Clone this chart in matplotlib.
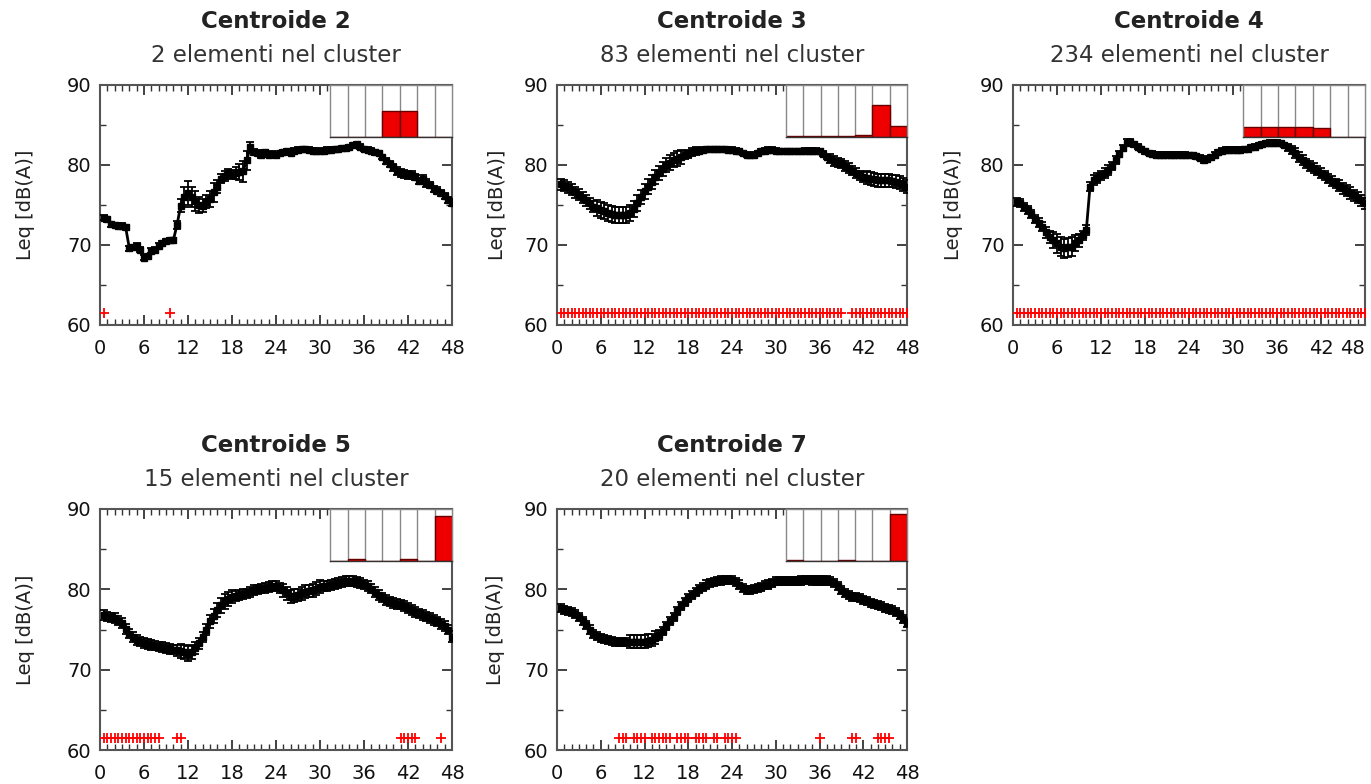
import numpy as np
import matplotlib
matplotlib.use('Agg')
import matplotlib.pyplot as plt
from matplotlib.ticker import MultipleLocator

# half-hour slots over the day (x axis 0..48)
slots = np.arange(0.5, 48.5, 0.5)

titles = ['Centroide 2', 'Centroide 3', 'Centroide 4', 'Centroide 5', 'Centroide 7']
subtitles = ['2 elementi nel cluster', '83 elementi nel cluster', '234 elementi nel cluster',
             '15 elementi nel cluster', '20 elementi nel cluster']

leq_c2 = [73.4, 73.2, 72.6, 72.5, 72.4, 72.4, 72.2, 69.6, 69.7, 69.9, 69.4, 68.4,
          68.6, 69.3, 69.4, 69.9, 70.2, 70.5, 70.6, 70.6, 72.5, 74.9, 76.0, 76.5,
          76.0, 75.5, 75.0, 74.9, 75.4, 75.8, 76.6, 77.3, 78.3, 78.6, 79.0, 78.8,
          79.0, 79.1, 79.2, 80.6, 82.2, 81.6, 81.5, 81.3, 81.6, 81.3, 81.4, 81.2,
          81.5, 81.6, 81.7, 81.5, 81.8, 81.9, 82.0, 82.0, 81.9, 81.8, 81.8, 81.7,
          81.8, 81.9, 81.9, 82.0, 82.0, 82.1, 82.1, 82.2, 82.5, 82.6, 82.3, 82.0,
          81.9, 81.8, 81.6, 81.5, 81.0, 80.5, 80.1, 79.7, 79.3, 79.0, 78.9, 78.8,
          78.7, 78.5, 78.0, 78.3, 77.8, 77.5, 77.0, 76.8, 76.5, 76.1, 75.6, 75.3]
err_c2 = [0.3, 0.3, 0.3, 0.3, 0.3, 0.3, 0.3, 0.3, 0.3, 0.3, 0.3, 0.3,
          0.3, 0.3, 0.3, 0.3, 0.3, 0.3, 0.3, 0.3, 0.5, 0.8, 1.2, 1.5,
          1.3, 1.2, 1.0, 0.8, 0.8, 1.0, 1.2, 0.8, 0.6, 0.6, 0.5, 0.6,
          0.8, 1.0, 1.3, 1.2, 0.7, 0.4, 0.4, 0.4, 0.3, 0.3, 0.3, 0.3,
          0.3, 0.3, 0.3, 0.3, 0.3, 0.3, 0.3, 0.3, 0.3, 0.3, 0.3, 0.3,
          0.3, 0.3, 0.3, 0.3, 0.3, 0.3, 0.3, 0.3, 0.3, 0.3, 0.3, 0.3,
          0.3, 0.3, 0.3, 0.3, 0.3, 0.4, 0.4, 0.4, 0.5, 0.5, 0.5, 0.5,
          0.5, 0.4, 0.4, 0.5, 0.5, 0.4, 0.4, 0.4, 0.4, 0.4, 0.4, 0.4]

leq_c3 = [77.6, 77.4, 77.2, 76.9, 76.6, 76.3, 75.9, 75.6, 75.2, 74.8, 74.6, 74.4,
          74.2, 74.0, 73.9, 73.8, 73.8, 73.7, 73.8, 74.0, 74.5, 75.2, 76.0, 76.7,
          77.3, 77.9, 78.5, 79.0, 79.5, 80.0, 80.3, 80.6, 80.8, 81.0, 81.2, 81.4,
          81.6, 81.7, 81.8, 81.9, 82.0, 82.0, 82.0, 82.0, 82.0, 82.0, 81.9, 81.9,
          81.8, 81.7, 81.5, 81.3, 81.2, 81.3, 81.5, 81.7, 81.8, 81.9, 81.9, 81.8,
          81.7, 81.7, 81.7, 81.7, 81.7, 81.7, 81.7, 81.8, 81.8, 81.8, 81.8, 81.7,
          81.4, 81.0, 80.8, 80.5, 80.3, 80.2, 79.9, 79.6, 79.3, 79.0, 78.7, 78.5,
          78.4, 78.3, 78.2, 78.1, 78.1, 78.1, 78.1, 78.0, 77.9, 77.8, 77.6, 77.3]
err_c3 = [0.7, 0.7, 0.7, 0.7, 0.7, 0.7, 0.7, 0.7, 0.7, 0.7, 1.0, 1.0,
          1.0, 1.0, 1.0, 1.0, 1.0, 1.0, 1.0, 1.0, 1.0, 1.0, 0.9, 0.9,
          0.9, 0.9, 0.9, 0.9, 0.9, 0.9, 0.9, 0.9, 0.9, 0.9, 0.5, 0.5,
          0.5, 0.5, 0.3, 0.3, 0.3, 0.3, 0.3, 0.3, 0.3, 0.3, 0.3, 0.3,
          0.3, 0.3, 0.3, 0.3, 0.3, 0.3, 0.3, 0.3, 0.3, 0.3, 0.3, 0.3,
          0.3, 0.3, 0.3, 0.3, 0.3, 0.3, 0.3, 0.3, 0.3, 0.3, 0.3, 0.3,
          0.3, 0.3, 0.6, 0.6, 0.6, 0.6, 0.6, 0.6, 0.6, 0.6, 0.6, 0.6,
          0.8, 0.8, 0.8, 0.8, 0.8, 0.8, 0.8, 0.8, 0.8, 0.8, 0.8, 0.8]

leq_c4 = [75.4, 75.2, 74.8, 74.4, 73.9, 73.3, 72.8, 72.3, 71.6, 71.0, 70.6, 70.2,
          69.8, 69.6, 69.7, 69.8, 70.2, 70.6, 71.2, 71.9, 77.3, 78.1, 78.4, 78.7,
          79.0, 79.4, 79.9, 80.6, 81.4, 82.1, 82.8, 82.9, 82.6, 82.3, 82.0, 81.7,
          81.5, 81.4, 81.3, 81.3, 81.3, 81.3, 81.3, 81.3, 81.3, 81.3, 81.3, 81.2,
          81.2, 81.1, 80.9, 80.6, 80.8, 81.0, 81.3, 81.6, 81.8, 81.9, 81.9, 81.9,
          81.9, 81.9, 82.0, 82.0, 82.2, 82.3, 82.5, 82.6, 82.7, 82.8, 82.8, 82.8,
          82.7, 82.5, 82.2, 81.9, 81.5, 81.0, 80.6, 80.2, 79.9, 79.6, 79.3, 79.0,
          78.7, 78.3, 78.0, 77.7, 77.4, 77.1, 76.8, 76.5, 76.2, 75.9, 75.6, 75.2]
err_c4 = [0.5, 0.5, 0.5, 0.5, 0.5, 0.5, 0.6, 0.6, 0.7, 0.8, 1.0, 1.2,
          1.2, 1.2, 1.2, 1.2, 1.0, 0.8, 0.6, 0.6, 0.6, 0.6, 0.6, 0.6,
          0.6, 0.6, 0.5, 0.5, 0.4, 0.4, 0.4, 0.3, 0.3, 0.3, 0.3, 0.3,
          0.3, 0.3, 0.3, 0.3, 0.3, 0.3, 0.3, 0.3, 0.3, 0.3, 0.3, 0.3,
          0.3, 0.3, 0.3, 0.3, 0.3, 0.3, 0.3, 0.3, 0.3, 0.3, 0.3, 0.3,
          0.3, 0.3, 0.3, 0.3, 0.3, 0.3, 0.3, 0.3, 0.3, 0.3, 0.3, 0.3,
          0.3, 0.3, 0.4, 0.5, 0.6, 0.6, 0.6, 0.6, 0.6, 0.6, 0.6, 0.6,
          0.6, 0.6, 0.6, 0.6, 0.7, 0.7, 0.7, 0.7, 0.7, 0.7, 0.7, 0.7]

leq_c5 = [76.8, 76.6, 76.5, 76.4, 76.1, 75.8, 75.1, 74.5, 74.1, 73.7, 73.5, 73.3,
          73.2, 73.1, 73.0, 72.9, 72.8, 72.7, 72.6, 72.5, 72.4, 72.3, 72.2, 72.0,
          72.2, 72.7, 73.3, 74.1, 75.0, 76.0, 76.7, 77.4, 78.0, 78.5, 78.8, 79.1,
          79.2, 79.3, 79.4, 79.5, 79.7, 79.9, 80.0, 80.1, 80.2, 80.3, 80.4, 80.4,
          80.2, 79.9, 79.5, 79.1, 79.2, 79.3, 79.5, 79.7, 79.8, 79.9, 80.1, 80.3,
          80.4, 80.4, 80.5, 80.7, 80.8, 80.9, 81.0, 81.0, 81.0, 80.9, 80.8, 80.6,
          80.4, 80.1, 79.7, 79.3, 79.0, 78.7, 78.5, 78.3, 78.2, 78.1, 77.9, 77.7,
          77.4, 77.2, 77.0, 76.8, 76.6, 76.4, 76.2, 76.0, 75.7, 75.4, 75.0, 74.1]
err_c5 = [0.6, 0.6, 0.6, 0.6, 0.6, 0.6, 0.6, 0.6, 0.6, 0.6, 0.6, 0.6,
          0.6, 0.6, 0.6, 0.6, 0.6, 0.6, 0.6, 0.6, 0.7, 0.9, 0.9, 0.9,
          0.9, 0.8, 0.7, 0.6, 0.7, 0.8, 0.9, 0.9, 0.9, 0.9, 0.9, 0.8,
          0.6, 0.6, 0.6, 0.6, 0.6, 0.6, 0.6, 0.6, 0.6, 0.6, 0.6, 0.6,
          0.6, 0.8, 0.8, 0.8, 0.8, 0.8, 0.8, 0.8, 0.8, 0.8, 0.8, 0.8,
          0.6, 0.6, 0.6, 0.6, 0.6, 0.6, 0.6, 0.6, 0.6, 0.6, 0.6, 0.6,
          0.6, 0.6, 0.6, 0.6, 0.6, 0.6, 0.6, 0.6, 0.6, 0.6, 0.6, 0.6,
          0.6, 0.6, 0.6, 0.6, 0.6, 0.6, 0.6, 0.6, 0.6, 0.6, 0.6, 0.7]

leq_c7 = [77.7, 77.4, 77.3, 77.2, 76.9, 76.6, 76.1, 75.6, 75.0, 74.5, 74.2, 73.9,
          73.8, 73.7, 73.6, 73.5, 73.5, 73.5, 73.5, 73.5, 73.5, 73.5, 73.5, 73.5,
          73.6, 73.7, 74.0, 74.3, 74.8, 75.4, 76.0, 76.6, 77.3, 77.9, 78.4, 78.9,
          79.3, 79.7, 80.0, 80.3, 80.6, 80.8, 80.9, 81.0, 81.1, 81.2, 81.2, 81.2,
          80.9, 80.6, 80.2, 79.9, 79.9, 80.0, 80.2, 80.3, 80.5, 80.6, 80.8, 81.0,
          81.0, 81.0, 81.0, 81.0, 81.0, 81.0, 81.1, 81.2, 81.2, 81.1, 81.1, 81.1,
          81.1, 81.1, 81.0, 80.8, 80.4, 79.9, 79.6, 79.3, 79.1, 79.0, 78.9, 78.7,
          78.5, 78.3, 78.2, 78.1, 77.9, 77.7, 77.5, 77.4, 77.2, 76.8, 76.3, 75.8]
err_c7 = [0.5, 0.5, 0.5, 0.5, 0.5, 0.5, 0.5, 0.5, 0.5, 0.5, 0.5, 0.5,
          0.5, 0.5, 0.5, 0.5, 0.5, 0.5, 0.5, 0.8, 0.8, 0.8, 0.8, 0.8,
          0.8, 0.8, 0.8, 0.6, 0.5, 0.5, 0.5, 0.5, 0.5, 0.5, 0.5, 0.5,
          0.5, 0.5, 0.5, 0.5, 0.5, 0.5, 0.5, 0.5, 0.5, 0.5, 0.5, 0.5,
          0.5, 0.5, 0.5, 0.5, 0.5, 0.5, 0.5, 0.5, 0.5, 0.5, 0.5, 0.5,
          0.5, 0.5, 0.5, 0.5, 0.5, 0.5, 0.5, 0.5, 0.5, 0.5, 0.5, 0.5,
          0.5, 0.5, 0.5, 0.5, 0.5, 0.5, 0.5, 0.5, 0.5, 0.5, 0.5, 0.5,
          0.5, 0.5, 0.5, 0.5, 0.5, 0.5, 0.5, 0.5, 0.5, 0.5, 0.5, 0.5]

# red '+' flags: spans of flagged half-hour slots (first, last)
red_c2 = [(0.5, 0.5), (9.5, 9.5)]
red_c3 = [(0.5, 39.0), (40.5, 48.0)]
red_c4 = [(0.5, 48.0)]
red_c5 = [(0.5, 8.0), (10.5, 11.0), (41.0, 43.0), (46.5, 46.5)]
red_c7 = [(8.5, 9.5), (10.5, 12.0), (13.0, 15.5), (16.5, 18.0), (19.0, 20.5),
          (21.5, 22.0), (23.0, 24.5), (36.0, 36.0), (40.5, 41.0), (44.0, 45.5)]

# inset: fraction of cluster elements per day of week
week_c2 = [0, 0, 0, 0.5, 0.5, 0, 0]
week_c3 = [0.012, 0.012, 0.012, 0.012, 0.036, 0.61, 0.22]
week_c4 = [0.19, 0.19, 0.19, 0.19, 0.17, 0, 0]
week_c5 = [0, 0.05, 0, 0, 0.05, 0, 0.87]
week_c7 = [0.03, 0, 0, 0.03, 0, 0, 0.9]

RED_LEVEL = 61.5


def draw_panel(ax, title, subtitle, leq, err, red_spans, week, ylab_off):
    ax.errorbar(slots, leq, yerr=err, fmt='-s', color='black', ms=4, lw=2,
                elinewidth=1.3, capsize=3, capthick=1.3, zorder=3)
    xs = np.concatenate([np.arange(a, b + 0.25, 0.5) for a, b in red_spans])
    ax.plot(xs, np.full(len(xs), RED_LEVEL), '+', color='red', ms=7, mew=1.3, zorder=4)

    ax.set_xlim(0, 48)
    ax.set_ylim(60, 90)
    ax.xaxis.set_major_locator(MultipleLocator(6))
    ax.xaxis.set_minor_locator(MultipleLocator(1))
    ax.yaxis.set_major_locator(MultipleLocator(10))
    ax.yaxis.set_minor_locator(MultipleLocator(5))
    ax.tick_params(which='both', direction='in', top=True, right=True,
                   color='#333333', labelsize=14, labelcolor='#111111')
    ax.tick_params(which='major', length=7, width=1.3, pad=6)
    ax.tick_params(axis='x', which='major', pad=10)
    ax.tick_params(which='minor', length=4, width=1)
    for sp in ax.spines.values():
        sp.set_color('#555555')
        sp.set_linewidth(1.5)
    ax.set_ylabel('Leq [dB(A)]', fontsize=14, color='#222222')
    ax.yaxis.set_label_coords(ylab_off, 0.5)

    ax.annotate(title, xy=(0.5, 1), xycoords='axes fraction', xytext=(0, 46),
                textcoords='offset points', ha='center', va='center',
                fontsize=16.5, fontweight='bold', color='#222222')
    ax.annotate(subtitle, xy=(0.5, 1), xycoords='axes fraction', xytext=(0, 21),
                textcoords='offset points', ha='center', va='center',
                fontsize=16.5, color='#333333')

    ins = ax.inset_axes([0.654, 0.783, 0.346, 0.217], zorder=5)
    ins.set_facecolor('white')
    for v in np.arange(1.5, 7.5, 1):
        ins.axvline(v, color='#888888', lw=1, zorder=0)
    ins.bar(np.arange(1, 8), week, width=1, color='#ee0000', edgecolor='#660000',
            lw=1, zorder=2)
    ins.set_xlim(0.5, 7.5)
    ins.set_ylim(0, 1)
    ins.set_xticks([])
    ins.set_yticks([])
    for sp in ins.spines.values():
        sp.set_color('#888888')
        sp.set_linewidth(1)
    ins.spines['bottom'].set_color('#333333')


fig = plt.figure(figsize=(13.71, 7.84), dpi=100)

W = 1371.0
H = 784.0
boxes = [(100, 85, 352, 240), (557, 85, 350, 240), (1013, 85, 352, 240),
         (100, 509, 352, 241), (557, 509, 350, 241)]
ylab_px = [65, 50, 50, 65, 52]
leqs = [leq_c2, leq_c3, leq_c4, leq_c5, leq_c7]
errs = [err_c2, err_c3, err_c4, err_c5, err_c7]
reds = [red_c2, red_c3, red_c4, red_c5, red_c7]
weeks = [week_c2, week_c3, week_c4, week_c5, week_c7]

axes = []
for i in range(5):
    l, t, w, h = boxes[i]
    ax = fig.add_axes([l / W, 1 - (t + h) / H, w / W, h / H])
    draw_panel(ax, titles[i], subtitles[i], leqs[i], errs[i], reds[i], weeks[i],
               -ylab_px[i] / w)
    axes.append(ax)

# the last x label of the right panel sits flush with the figure edge
fig.canvas.draw()
for lab in axes[2].get_xticklabels():
    if lab.get_text() == '48':
        lab.set_horizontalalignment('right')
        lab.set_x(48.6)

fig.savefig('out.png', dpi=100)
